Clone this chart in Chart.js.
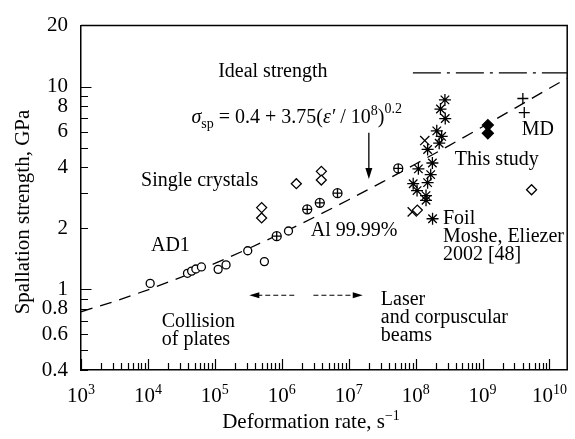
<!DOCTYPE html>
<html lang="en">
<head>
<meta charset="UTF-8">
<title>Spallation strength vs deformation rate</title>
<script src="https://cdn.jsdelivr.net/npm/chart.js"></script>
<style>
  body { margin: 0; background: #fff; }
  #wrap { width: 575px; height: 439px; position: relative; }
</style>
</head>
<body>
<div id="wrap"><canvas id="spallChart"></canvas></div>
<script>
// deformation rate (1/s) and spallation strength (GPa)
const plateRates = [1.08e4, 3.9e4, 4.5e4, 5.2e4, 6.3e4, 1.12e5, 1.47e5, 3.1e5, 5.5e5, 1.26e6];
const plateStrength = [1.07, 1.20, 1.23, 1.26, 1.29, 1.255, 1.32, 1.55, 1.37, 1.94];

const alRates = [8.4e5, 2.4e6, 3.7e6, 6.8e6, 5.5e7];
const alStrength = [1.83, 2.48, 2.67, 2.98, 3.95];

const crystalRates = [5.0e5, 5.0e5, 1.65e6, 3.9e6, 3.9e6, 1.06e8, 5.4e9];
const crystalStrength = [2.53, 2.25, 3.32, 3.82, 3.46, 2.46, 3.10];

const foilRates = [2.74e8, 2.35e8, 2.77e8, 2.07e8, 2.45e8, 2.25e8, 1.51e8, 1.78e8,
                   1.10e8, 1.68e8, 1.51e8, 9.2e7, 1.05e8, 1.43e8, 1.43e8, 1.79e8];
const foilStrength = [8.6, 7.75, 6.96, 6.05, 5.68, 5.26, 4.90, 4.20,
                      3.93, 3.68, 3.36, 3.32, 3.07, 2.90, 2.75, 2.23];

const xMarkRates = [1.37e8, 8.9e7];
const xMarkStrength = [5.42, 2.41];

const studyRates = [1.2e9, 1.2e9];
const studyStrength = [6.46, 5.89];

const mdRates = [4.0e9, 4.2e9];
const mdStrength = [8.74, 7.45];

// fitted curve sigma_sp = 0.4 + 3.75(e'/1e8)^0.2
const fitRates = [1e3, 3.16e3, 1e4, 3.16e4, 1e5, 3.16e5, 1e6, 3.16e6, 1e7, 3.16e7,
                  1e8, 3.16e8, 1e9, 3.16e9, 1e10, 1.84e10];
const fitStrength = [0.775, 0.872, 0.994, 1.148, 1.342, 1.586, 1.893, 2.279, 2.766, 3.379,
                     4.15, 5.12, 6.34, 7.88, 9.82, 11.0];

const idealRates = [9.1e7, 1.84e10];
const idealStrength = [11.7, 11.7];

const yTickValues = [0.4, 0.5, 0.6, 0.7, 0.8, 0.9, 1, 2, 3, 4, 5, 6, 7, 8, 9, 10, 20];
const yTickLabels = ['0.4', '', '0.6', '', '0.8', '', '1', '2', '', '4', '', '6', '', '8', '', '10', '20'];
const xTickPowers = [3, 4, 5, 6, 7, 8, 9, 10];

const notes = [
  { lines: ['Ideal strength'], rate: 1.12e5, gpa: 11.2 },
  { lines: ['Single crystals'], rate: 7.9e3, gpa: 3.25 },
  { lines: ['AD1'], rate: 1.11e4, gpa: 1.55 },
  { lines: ['Al 99.99%'], rate: 2.72e6, gpa: 1.83 },
  { lines: ['Collision', 'of plates'], rate: 1.61e4, gpa: 0.653 },
  { lines: ['Laser', 'and corpuscular', 'beams'], rate: 3.02e7, gpa: 0.841 },
  { lines: ['This study'], rate: 3.85e8, gpa: 4.12 },
  { lines: ['MD'], rate: 3.86e9, gpa: 5.8 },
  { lines: ['Foil', 'Moshe, Eliezer', '2002 [48]'], rate: 2.56e8, gpa: 2.11 }
];

const FONT = '"Liberation Serif", "Times New Roman", serif';
const FS = 21;      // ticks and axis titles
const NOTE_FS = 20; // text inside the plot

function pts(xs, ys) {
  return xs.map((x, i) => ({ x: x, y: ys[i] }));
}

function drawRuns(ctx, runs, x, y) {
  runs.forEach(r => {
    ctx.font = (r.italic ? 'italic ' : '') + (r.size || FS) + 'px ' + FONT;
    ctx.fillText(r.t, x, y + (r.dy || 0));
    x += ctx.measureText(r.t).width;
  });
  return x;
}

function runsWidth(ctx, runs) {
  let w = 0;
  runs.forEach(r => {
    ctx.font = (r.italic ? 'italic ' : '') + (r.size || FS) + 'px ' + FONT;
    w += ctx.measureText(r.t).width;
  });
  return w;
}

function arrowHead(ctx, x, y, dx, dy, len, half) {
  // dx,dy = unit direction the arrow points to
  ctx.beginPath();
  ctx.moveTo(x, y);
  ctx.lineTo(x - dx * len - dy * half, y - dy * len + dx * half);
  ctx.lineTo(x - dx * len + dy * half, y - dy * len - dx * half);
  ctx.closePath();
  ctx.fill();
}

const decorations = {
  id: 'decorations',
  afterDraw(chart) {
    const { ctx, chartArea: a, scales: { x, y } } = chart;
    ctx.save();
    ctx.strokeStyle = '#000';
    ctx.fillStyle = '#000';

    // top and right frame
    ctx.lineWidth = 1.5;
    ctx.beginPath();
    ctx.moveTo(a.left, a.top);
    ctx.lineTo(a.right, a.top);
    ctx.lineTo(a.right, a.bottom);
    ctx.stroke();

    // inward ticks
    ctx.lineWidth = 1.2;
    ctx.beginPath();
    yTickValues.forEach(v => {
      if (v >= y.max) return;
      const p = Math.round(y.getPixelForValue(v)) + 0.5;
      const len = (v === 1 || v === 10) ? 10.5 : 7;
      ctx.moveTo(a.left, p);
      ctx.lineTo(a.left + len, p);
    });
    xTickPowers.forEach(k => {
      for (let m = 1; m <= 9; m++) {
        const v = m * Math.pow(10, k);
        if (v > x.max) break;
        const p = Math.round(x.getPixelForValue(v)) + 0.5;
        const len = m === 1 ? 11 : 7;
        ctx.moveTo(p, a.bottom);
        ctx.lineTo(p, a.bottom - len);
      }
    });
    ctx.stroke();

    // x tick labels with superscripts
    ctx.textBaseline = 'alphabetic';
    ctx.textAlign = 'left';
    xTickPowers.forEach(k => {
      const runs = [{ t: '10' }, { t: String(k), size: 14, dy: -8 }];
      const w = runsWidth(ctx, runs);
      drawRuns(ctx, runs, x.getPixelForValue(Math.pow(10, k)) - w / 2, a.bottom + 32);
    });

    // axis titles
    const xt = [{ t: 'Deformation rate, s' }, { t: '\u22121', size: 14, dy: -8 }];
    drawRuns(ctx, xt, 311 - runsWidth(ctx, xt) / 2, a.bottom + 58);

    ctx.save();
    ctx.translate(23, 212);
    ctx.rotate(-Math.PI / 2);
    ctx.font = FS + 'px ' + FONT;
    ctx.textAlign = 'center';
    ctx.textBaseline = 'middle';
    ctx.fillText('Spallation strength, GPa', 0, 0);
    ctx.restore();

    // annotations
    ctx.textAlign = 'left';
    ctx.textBaseline = 'alphabetic';
    ctx.font = NOTE_FS + 'px ' + FONT;
    notes.forEach(n => {
      const px = x.getPixelForValue(n.rate);
      const py = y.getPixelForValue(n.gpa);
      n.lines.forEach((line, i) => ctx.fillText(line, px, py + i * 18.3));
    });

    // formula
    drawRuns(ctx, [
      { t: '\u03c3', italic: true, size: NOTE_FS },
      { t: 'sp', size: 14, dy: 5 },
      { t: ' = 0.4 + 3.75(', size: NOTE_FS },
      { t: '\u03b5\u2032', italic: true, size: NOTE_FS },
      { t: ' / 10', size: NOTE_FS },
      { t: '8', size: 14, dy: -8 },
      { t: ')', size: NOTE_FS },
      { t: '0.2', size: 14, dy: -10 }
    ], x.getPixelForValue(4.47e4), y.getPixelForValue(6.6));

    // arrow from formula down to the curve
    const ax = x.getPixelForValue(2e7);
    const ay0 = y.getPixelForValue(5.92);
    const ay1 = y.getPixelForValue(3.5);
    ctx.lineWidth = 1.3;
    ctx.beginPath();
    ctx.moveTo(ax, ay0);
    ctx.lineTo(ax, ay1 - 6);
    ctx.stroke();
    arrowHead(ctx, ax, ay1, 0, 1, 11, 3.5);

    // dashed range arrows
    const ry = y.getPixelForValue(0.935);
    const l0 = x.getPixelForValue(3.27e5), l1 = x.getPixelForValue(1.69e6);
    const r0 = x.getPixelForValue(2.97e6), r1 = x.getPixelForValue(1.62e7);
    ctx.lineWidth = 1.2;
    ctx.setLineDash([5, 3]);
    ctx.beginPath();
    ctx.moveTo(l0 + 8, ry); ctx.lineTo(l1, ry);
    ctx.moveTo(r0, ry); ctx.lineTo(r1 - 8, ry);
    ctx.stroke();
    ctx.setLineDash([]);
    arrowHead(ctx, l0, ry, -1, 0, 10, 3);
    arrowHead(ctx, r1, ry, 1, 0, 10, 3);

    ctx.restore();
  }
};

const marker = {
  borderColor: '#000',
  pointBorderColor: '#000',
  pointBorderWidth: 1.3,
  showLine: false
};

new Chart(document.getElementById('spallChart'), {
  type: 'scatter',
  data: {
    datasets: [
      Object.assign({ data: pts(alRates, alStrength), pointStyle: 'cross', pointRadius: 4.5,
        pointBackgroundColor: '#000' }, marker),
      Object.assign({ data: pts(alRates, alStrength), pointStyle: 'circle', pointRadius: 4.5,
        pointBackgroundColor: '#fff' }, marker),
      Object.assign({ data: pts(plateRates, plateStrength), pointStyle: 'circle', pointRadius: 4,
        pointBackgroundColor: '#fff' }, marker),
      Object.assign({ data: pts(crystalRates, crystalStrength), pointStyle: 'rectRot', pointRadius: 5,
        pointBackgroundColor: '#fff' }, marker),
      Object.assign({ data: pts(foilRates, foilStrength), pointStyle: 'star', pointRadius: 6,
        pointBackgroundColor: '#000', pointBorderWidth: 1.5 }, marker),
      Object.assign({ data: pts(xMarkRates, xMarkStrength), pointStyle: 'crossRot', pointRadius: 6.5,
        pointBackgroundColor: '#000' }, marker),
      Object.assign({ data: pts(studyRates, studyStrength), pointStyle: 'rectRot', pointRadius: 5.5,
        pointBackgroundColor: '#000' }, marker),
      Object.assign({ data: pts(mdRates, mdStrength), pointStyle: 'cross', pointRadius: 5.5,
        pointBackgroundColor: '#000' }, marker),
      {
        data: pts(fitRates, fitStrength), showLine: true, pointRadius: 0,
        borderColor: '#000', borderWidth: 1.3, borderDash: [12, 8], fill: false
      },
      {
        data: pts(idealRates, idealStrength), showLine: true, pointRadius: 0,
        borderColor: '#000', borderWidth: 1.3, borderDash: [28, 6, 3, 6], fill: false
      }
    ]
  },
  options: {
    responsive: true,
    maintainAspectRatio: false,
    animation: false,
    layout: { padding: { top: 14, right: 1, left: 0, bottom: 0 } },
    plugins: { legend: { display: false }, tooltip: { enabled: false } },
    scales: {
      x: {
        type: 'logarithmic',
        min: 1e3,
        max: 1.84e10,
        grid: { display: false, drawTicks: false },
        border: { color: '#000', width: 1.5 },
        ticks: { display: false },
        afterFit: s => { s.height = 69; }
      },
      y: {
        type: 'logarithmic',
        min: 0.4,
        max: 20,
        grid: { display: false, drawTicks: false },
        border: { color: '#000', width: 1.5 },
        ticks: {
          color: '#000',
          padding: 13,
          autoSkip: false,
          font: { family: FONT, size: FS },
          callback: (v, i) => yTickLabels[i]
        },
        afterBuildTicks: s => { s.ticks = yTickValues.map(v => ({ value: v })); },
        afterFit: s => { s.width = 81; }
      }
    }
  },
  plugins: [decorations]
});
</script>
</body>
</html>
